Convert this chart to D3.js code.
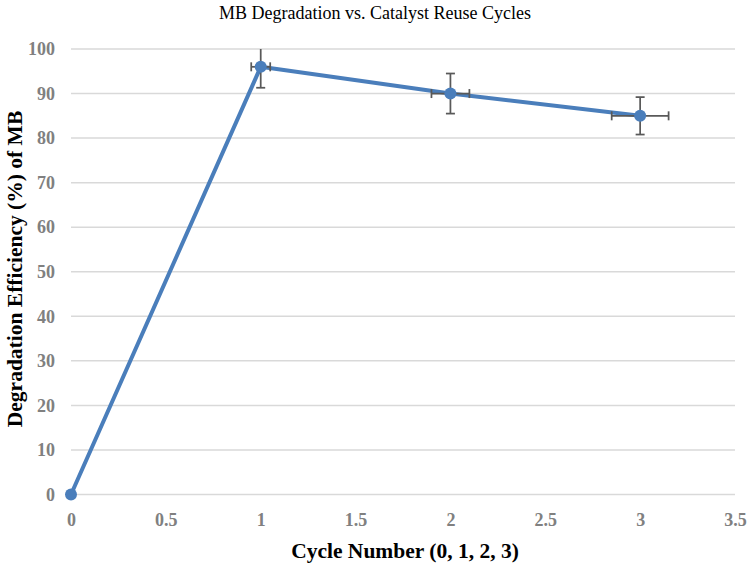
<!DOCTYPE html>
<html>
<head>
  <meta charset="utf-8">
  <title>MB Degradation vs. Catalyst Reuse Cycles</title>
  <script src="https://d3js.org/d3.v7.min.js"></script>
  <style>
    body { margin: 0; background: #fff; }
    .tick text {
      font-family: "Liberation Serif", "Times New Roman", serif;
      font-weight: bold;
      font-size: 18px;
      fill: #808080;
    }
  </style>
</head>
<body>
<script>
  var w = 749, h = 564;

  // data
  var cycles = [0, 1, 2, 3];
  var efficiency = [0, 96, 90, 85];
  var yErr = [0, 4.7, 4.5, 4.2];
  var xErr = [0, 0.05, 0.1, 0.15];
  var xTicks = [0, 0.5, 1, 1.5, 2, 2.5, 3, 3.5];
  var yTicks = [0, 10, 20, 30, 40, 50, 60, 70, 80, 90, 100];

  // plot area edges
  var plotLeft = 71, plotRight = 735, plotTop = 49, plotBottom = 494.5;
  var serif = "'Liberation Serif', 'Times New Roman', serif";

  var svg = d3.select("body").append("svg")
    .attr("width", w)
    .attr("height", h);

  var x = d3.scaleLinear().domain([0, 3.5]).range([plotLeft, plotRight]);
  var y = d3.scaleLinear().domain([0, 100]).range([plotBottom, plotTop]);

  // gridlines
  svg.append("g")
    .selectAll("line")
    .data(yTicks)
    .enter().append("line")
    .attr("x1", plotLeft).attr("x2", plotRight)
    .attr("y1", function(d) { return y(d); })
    .attr("y2", function(d) { return y(d); })
    .attr("stroke", "#d9d9d9")
    .attr("stroke-width", 1.5);

  // y axis labels
  var yAxis = d3.axisLeft(y).tickValues(yTicks).tickSize(0).tickPadding(16);
  svg.append("g")
    .attr("transform", "translate(" + plotLeft + ",0)")
    .call(yAxis)
    .call(function(g) { g.select(".domain").remove(); });

  // x axis labels
  var xAxis = d3.axisBottom(x).tickValues(xTicks).tickSize(0).tickPadding(19)
    .tickFormat(function(d) { return String(d); });
  svg.append("g")
    .attr("transform", "translate(0," + plotBottom + ")")
    .call(xAxis)
    .call(function(g) { g.select(".domain").remove(); });

  var pts = cycles.map(function(c, i) {
    return { x: c, y: efficiency[i], ey: yErr[i], ex: xErr[i] };
  });

  // main line
  var line = d3.line()
    .x(function(d) { return x(d.x); })
    .y(function(d) { return y(d.y); });

  svg.append("path")
    .datum(pts)
    .attr("d", line)
    .attr("fill", "none")
    .attr("stroke", "#4a7ebb")
    .attr("stroke-width", 4)
    .attr("stroke-linejoin", "round");

  // error bars
  var eb = svg.append("g")
    .attr("stroke", "#595959")
    .attr("stroke-width", 1.75)
    .selectAll("g")
    .data(pts.filter(function(d) { return d.ey > 0; }))
    .enter().append("g");

  var cap = 4.5;
  eb.append("line")
    .attr("x1", function(d) { return x(d.x); })
    .attr("x2", function(d) { return x(d.x); })
    .attr("y1", function(d) { return y(Math.min(100, d.y + d.ey)); })
    .attr("y2", function(d) { return y(d.y - d.ey); });
  eb.filter(function(d) { return d.y + d.ey <= 100; }).append("line")
    .attr("x1", function(d) { return x(d.x) - cap; })
    .attr("x2", function(d) { return x(d.x) + cap; })
    .attr("y1", function(d) { return y(d.y + d.ey); })
    .attr("y2", function(d) { return y(d.y + d.ey); });
  eb.append("line")
    .attr("x1", function(d) { return x(d.x) - cap; })
    .attr("x2", function(d) { return x(d.x) + cap; })
    .attr("y1", function(d) { return y(d.y - d.ey); })
    .attr("y2", function(d) { return y(d.y - d.ey); });

  eb.append("line")
    .attr("x1", function(d) { return x(d.x - d.ex); })
    .attr("x2", function(d) { return x(d.x + d.ex); })
    .attr("y1", function(d) { return y(d.y); })
    .attr("y2", function(d) { return y(d.y); });
  eb.append("line")
    .attr("x1", function(d) { return x(d.x - d.ex); })
    .attr("x2", function(d) { return x(d.x - d.ex); })
    .attr("y1", function(d) { return y(d.y) - cap; })
    .attr("y2", function(d) { return y(d.y) + cap; });
  eb.append("line")
    .attr("x1", function(d) { return x(d.x + d.ex); })
    .attr("x2", function(d) { return x(d.x + d.ex); })
    .attr("y1", function(d) { return y(d.y) - cap; })
    .attr("y2", function(d) { return y(d.y) + cap; });

  // markers
  svg.selectAll("circle")
    .data(pts)
    .enter().append("circle")
    .attr("cx", function(d) { return x(d.x); })
    .attr("cy", function(d) { return y(d.y); })
    .attr("r", 6)
    .attr("fill", "#4a7ebb");

  // titles
  svg.append("text")
    .attr("x", 375).attr("y", 19)
    .attr("text-anchor", "middle")
    .attr("font-family", serif)
    .attr("font-size", "18px")
    .attr("fill", "#000")
    .text("MB Degradation vs. Catalyst Reuse Cycles");

  svg.append("text")
    .attr("x", 405).attr("y", 558)
    .attr("text-anchor", "middle")
    .attr("font-family", serif)
    .attr("font-weight", "bold")
    .attr("font-size", "21.5px")
    .attr("fill", "#000")
    .text("Cycle Number (0, 1, 2, 3)");

  svg.append("text")
    .attr("transform", "translate(22,269) rotate(-90)")
    .attr("text-anchor", "middle")
    .attr("font-family", serif)
    .attr("font-weight", "bold")
    .attr("font-size", "21.5px")
    .attr("fill", "#000")
    .text("Degradation Efficiency (%) of MB");
</script>
</body>
</html>
